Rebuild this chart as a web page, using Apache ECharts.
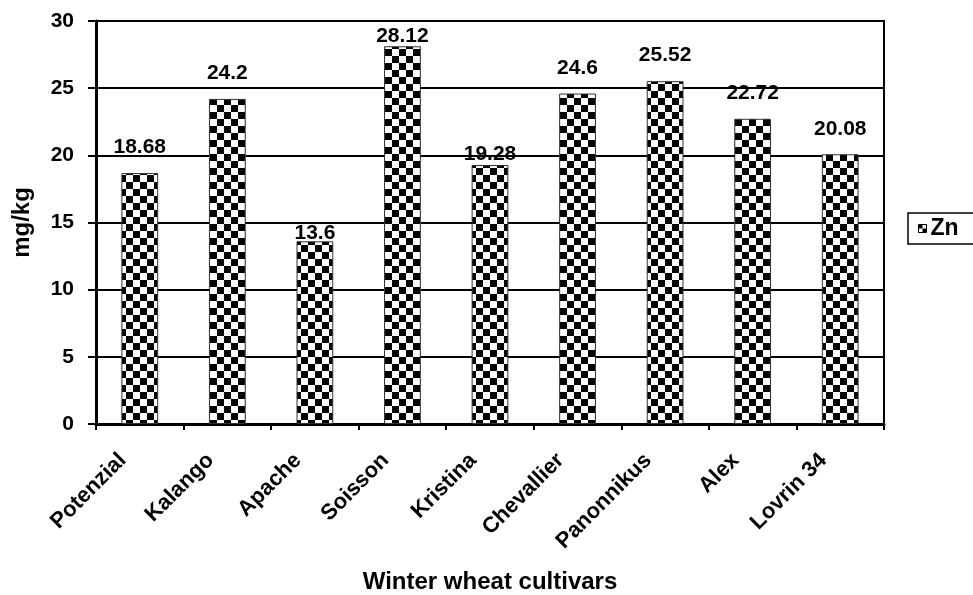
<!DOCTYPE html>
<html>
<head>
<meta charset="utf-8">
<script src="https://cdn.jsdelivr.net/npm/echarts@6/dist/echarts.min.js"></script>
<style>
  html, body { margin: 0; padding: 0; background: #fff; }
  #chart { width: 973px; height: 595px; }
</style>
</head>
<body>
<div id="chart"></div>
<script>
// data
var cultivars = ['Potenzial', 'Kalango', 'Apache', 'Soisson', 'Kristina', 'Chevallier', 'Panonnikus', 'Alex', 'Lovrin 34'];
var znValues = [18.68, 24.2, 13.6, 28.12, 19.28, 24.6, 25.52, 22.72, 20.08];
var yTicks = [0, 5, 10, 15, 20, 25, 30];

var FONT = '"Liberation Sans", Arial, sans-serif';

// checker pattern like the excel fill
function checker(size) {
    var c = document.createElement('canvas');
    c.width = size * 2;
    c.height = size * 2;
    var ctx = c.getContext('2d');
    ctx.fillStyle = '#fff';
    ctx.fillRect(0, 0, size * 2, size * 2);
    ctx.fillStyle = '#000';
    ctx.fillRect(0, 0, size, size);
    ctx.fillRect(size, size, size, size);
    return c;
}

// label offsets that were moved by hand in the original
var labelDistance = { 'Soisson': 0, 'Kristina': 0, 'Apache': -2 };

var barData = znValues.map(function (v, i) {
    var d = { value: v };
    if (labelDistance[cultivars[i]] !== undefined) {
        d.label = { distance: labelDistance[cultivars[i]] };
    }
    return d;
});

var chart = echarts.init(document.getElementById('chart'));
chart.setOption({
    animation: false,
    backgroundColor: '#fff',
    textStyle: { fontFamily: FONT },
    grid: {
        left: 96, right: 89, top: 21, bottom: 171,
        outerBoundsMode: 'none',
        containLabel: false,
        show: true, borderColor: '#000', borderWidth: 2
    },
    legend: {
        left: 908, top: 213,
        orient: 'vertical',
        padding: [4, 20, 4, 10],
        borderColor: '#000', borderWidth: 1.5,
        itemWidth: 8, itemHeight: 8,
        itemGap: 4,
        icon: 'rect',
        textStyle: { fontFamily: FONT, fontWeight: 'bold', fontSize: 23, color: '#000', padding: [0, 0, 0, -1] },
        data: [{
            name: 'Zn',
            itemStyle: { color: { image: checker(4), repeat: 'repeat' }, borderColor: '#000', borderWidth: 1 }
        }]
    },
    xAxis: {
        type: 'category',
        data: cultivars,
        name: 'Winter wheat cultivars',
        nameLocation: 'middle',
        nameGap: 146,
        nameTextStyle: { fontFamily: FONT, fontWeight: 'bold', fontSize: 24, color: '#000' },
        axisLine: { lineStyle: { color: '#000', width: 3 } },
        axisTick: { show: true, length: 6, lineStyle: { color: '#000', width: 2 } },
        axisLabel: {
            rotate: 45, margin: 16, interval: 0,
            padding: [0, 24, 0, 0],
            fontFamily: FONT, fontWeight: 'bold', fontSize: 22, color: '#000'
        }
    },
    yAxis: {
        type: 'value',
        min: 0, max: 30, interval: 5,
        name: 'mg/kg',
        nameLocation: 'middle',
        nameGap: 62,
        nameRotate: 90,
        nameTextStyle: { fontFamily: FONT, fontWeight: 'bold', fontSize: 24, color: '#000' },
        axisLine: { show: true, lineStyle: { color: '#000', width: 3 } },
        axisTick: { show: true, length: 8, lineStyle: { color: '#000', width: 2 } },
        axisLabel: {
            margin: 22,
            fontFamily: FONT, fontWeight: 'bold', fontSize: 21, color: '#000',
            formatter: function (v) { return yTicks.indexOf(v) >= 0 ? String(v) : ''; }
        },
        splitLine: { show: true, lineStyle: { color: '#000', width: 2 } }
    },
    series: [{
        name: 'Zn',
        type: 'bar',
        barWidth: '42%',
        data: barData,
        itemStyle: {
            color: { image: checker(7), repeat: 'repeat' },
            borderColor: '#333', borderWidth: 1
        },
        label: {
            show: true, position: 'top', distance: 15,
            fontFamily: FONT, fontWeight: 'bold', fontSize: 21, color: '#000'
        }
    }]
});
</script>
</body>
</html>
